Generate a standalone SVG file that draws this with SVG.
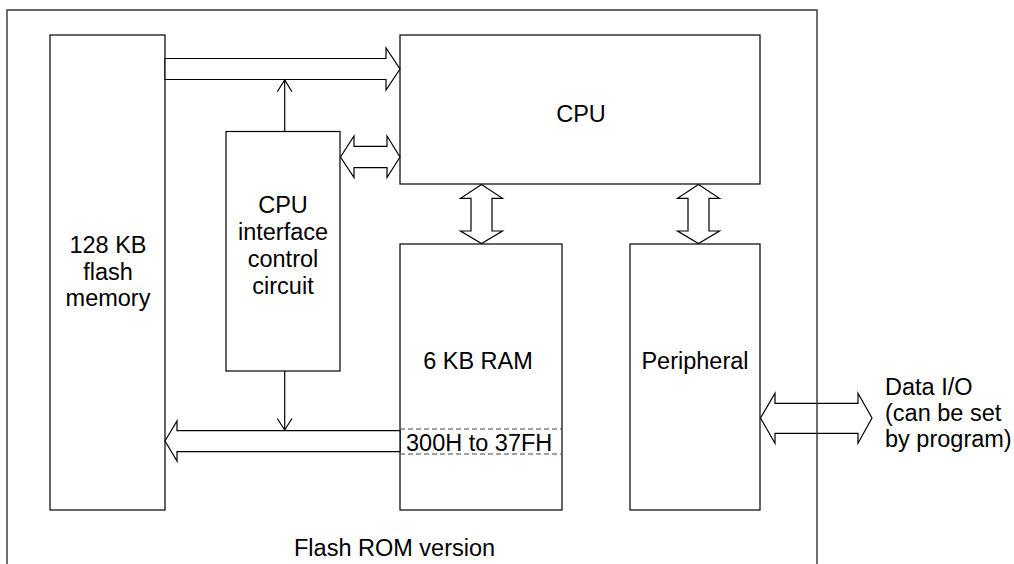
<svg xmlns="http://www.w3.org/2000/svg" width="1014" height="564" viewBox="0 0 1014 564">
<style>
.box{fill:#fff;stroke:#000;stroke-width:1.2}
.arr{fill:#fff;stroke:#000;stroke-width:1.2;stroke-linejoin:miter}
.thin{fill:none;stroke:#000;stroke-width:1.2}
.dash{fill:none;stroke:#444;stroke-width:1.2;stroke-dasharray:5 3}
.frame{fill:none;stroke:#333;stroke-width:1.4}
text{font-family:"Liberation Sans",Arial,sans-serif;font-size:23.5px;fill:#000}
.c{text-anchor:middle}
</style>
<rect width="1014" height="564" fill="#fff"/>
<g id="flash-memory">
<rect class="box" x="50" y="35" width="115" height="475"/>
<text class="c" x="108" y="253">128 KB</text>
<text class="c" x="108" y="279.5">flash</text>
<text class="c" x="108" y="306">memory</text>
</g>
<g id="cpu">
<rect class="box" x="400" y="35" width="360" height="149"/>
<text class="c" x="581" y="122">CPU</text>
</g>
<g id="cpu-interface">
<rect class="box" x="226" y="131.5" width="114" height="239.5"/>
<text class="c" x="283" y="213">CPU</text>
<text class="c" x="283" y="240">interface</text>
<text class="c" x="283" y="267">control</text>
<text class="c" x="283" y="293.5">circuit</text>
</g>
<g id="ram">
<rect class="box" x="400" y="244" width="162" height="266"/>
<text class="c" x="478" y="369">6 KB RAM</text>
<line class="dash" x1="400" y1="429" x2="562" y2="429"/>
<line class="dash" x1="400" y1="454" x2="562" y2="454"/>
<text x="406" y="450.5">300H to 37FH</text>
</g>
<g id="peripheral">
<rect class="box" x="630" y="244" width="130" height="266"/>
<text class="c" x="695" y="369">Peripheral</text>
</g>
<g id="data-io-label">
<text x="885" y="395">Data I/O</text>
<text x="885" y="421">(can be set</text>
<text x="885" y="447">by program)</text>
</g>
<g id="connectors">
<polygon class="arr" points="165,58.5 386,58.5 386,48 400,69 386,90 386,79.5 165,79.5"/>
<line class="thin" x1="284.7" y1="131.5" x2="284.7" y2="80"/>
<polyline class="thin" points="277.3,91.7 284.7,80 292,91.7"/>
<polygon class="arr" points="340.5,157 354,136 354,146.3 387,146.3 387,136 400,157 387,177.5 387,167.7 354,167.7 354,177.5"/>
<polygon class="arr" points="481.5,184.5 502.5,198.3 492,198.3 492,231 502.5,231 481.5,243.5 460.5,231 471,231 471,198.3 460.5,198.3"/>
<polygon class="arr" points="698.5,184.5 719.5,198.3 709,198.3 709,231 719.5,231 698.5,243.5 677.5,231 688,231 688,198.3 677.5,198.3"/>
<polygon class="arr" points="165,441 177,421 177,430.7 400,430.7 400,451.7 177,451.7 177,461"/>
<line class="thin" x1="284.7" y1="371" x2="284.7" y2="430"/>
<polyline class="thin" points="277.3,418.5 284.7,430 292,418.5"/>
<polygon class="arr" points="760.5,418 775,393.3 775,403.3 858,403.3 858,393.3 872,418 858,443.3 858,433.3 775,433.3 775,443.3"/>
</g>
<g id="frame">
<path class="frame" d="M7,570 V10 H817 V570"/>
<text x="294" y="555.5">Flash ROM version</text>
</g>
</svg>
